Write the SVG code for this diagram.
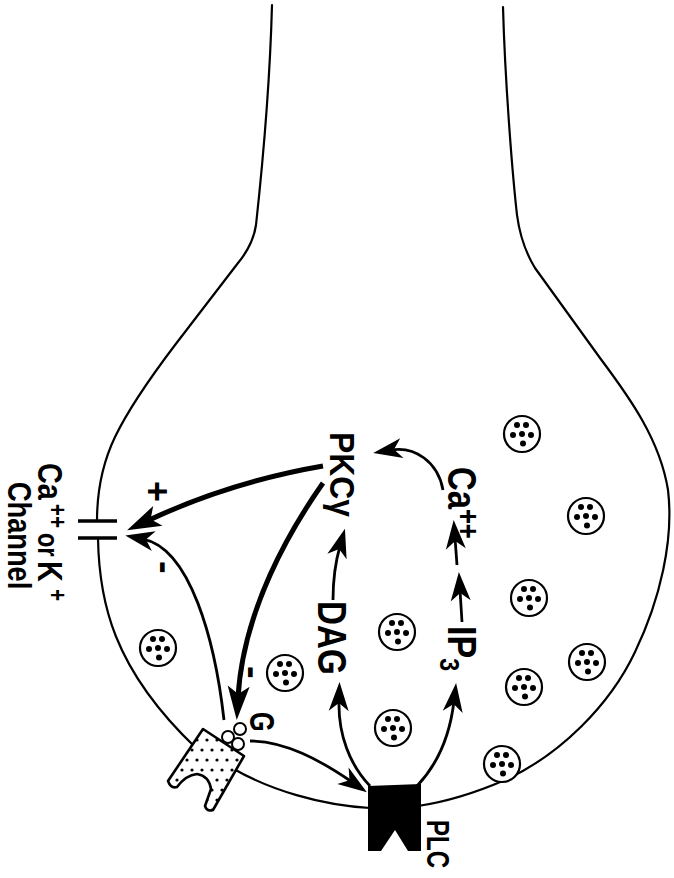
<svg xmlns="http://www.w3.org/2000/svg" width="674" height="878" viewBox="0 0 674 878">
  <style>
    .mem{fill:none;stroke:#000;stroke-width:2.2;stroke-linecap:round;stroke-linejoin:round}
    .thin{fill:none;stroke:#000;stroke-width:2.8;marker-end:url(#ah)}
    .thick{fill:none;stroke:#000;stroke-width:5;marker-end:url(#ahb)}
    .lbl{font-family:"Liberation Sans",Arial,Helvetica,sans-serif;font-weight:bold;fill:#000}
  </style>
  <defs>
    <marker id="ah" markerUnits="userSpaceOnUse" orient="auto" refX="0" refY="0" markerWidth="40" markerHeight="30" overflow="visible">
      <path d="M18,0 L-11,-10 L-3,0 L-11,10 Z" fill="#000"/>
    </marker>
    <marker id="ahb" markerUnits="userSpaceOnUse" orient="auto" refX="0" refY="0" markerWidth="40" markerHeight="30" overflow="visible">
      <path d="M22,0 L-12,-11 L-4,0 L-12,11 Z" fill="#000"/>
    </marker>
    <pattern id="stipple" patternUnits="userSpaceOnUse" x="0" y="5" width="10" height="20">
      <circle cx="7" cy="15" r="1.6" fill="#000"/>
      <circle cx="2" cy="5" r="1.6" fill="#000"/>
    </pattern>
    <g id="vesicle">
      <circle r="18" fill="#fff" stroke="#000" stroke-width="2.2"/>
      <circle cx="-5" cy="-9" r="3"/>
      <circle cx="4" cy="-9" r="3"/>
      <circle cx="-9" cy="1" r="3"/>
      <circle cx="0" cy="0" r="3"/>
      <circle cx="9" cy="1" r="3"/>
      <circle cx="1" cy="9.5" r="3"/>
    </g>
    <path id="receptor-shape" d="M203,729 L244,756 L213,810 Q207,812 205,806 L211,789 Q209,776 197,774 Q186,775 177,787 Q171,789 168,781 Z"/>
  </defs>

  <rect width="674" height="878" fill="#fff"/>

  <!-- cell membrane -->
  <g id="membrane">
    <path class="mem" d="M272,5 C270,80 262,170 256,225 Q253,245 238,263 L175,345 C150,378 128,410 115,437 C104,460 97,490 97,521"/>
    <path class="mem" d="M98,538 C99,600 112,668 196,748"/>
    <path class="mem" d="M232,768 C270,790 320,805 370,808"/>
    <path class="mem" d="M503,7 C505,80 512,170 517,215 Q521,245 535,268 L600,358 C630,398 660,440 668,490 C674,540 660,600 635,652 C610,705 560,755 505,780 C475,793 445,802 418,806"/>
  </g>

  <!-- ion channel -->
  <g id="channel" stroke="#000" stroke-width="3.3">
    <line x1="78" y1="521" x2="117" y2="521"/>
    <line x1="78" y1="538" x2="117" y2="538"/>
  </g>

  <!-- secretory vesicles -->
  <g id="vesicles">
    <use href="#vesicle" x="522" y="434"/>
    <use href="#vesicle" x="586" y="516"/>
    <use href="#vesicle" x="529" y="598"/>
    <use href="#vesicle" x="587" y="662"/>
    <use href="#vesicle" x="524" y="687"/>
    <use href="#vesicle" x="502" y="764"/>
    <use href="#vesicle" x="397" y="632"/>
    <use href="#vesicle" x="393" y="728"/>
    <use href="#vesicle" x="285" y="673"/>
    <use href="#vesicle" x="158" y="648"/>
  </g>

  <!-- signalling connectors -->
  <g id="connectors">
    <path class="thin" d="M443,490 C438,462 415,446 391,450"/>
    <path class="thin" d="M333,600 C333,575 336,560 340,546"/>
    <path class="thin" d="M462,622 L460,590"/>
    <path class="thin" d="M457,565 L455,538"/>
    <path class="thin" d="M370,786 C350,765 338,735 339,700"/>
    <path class="thin" d="M417,786 C437,765 450,735 454,701"/>
    <path class="thin" d="M250,741 C285,741 320,760 352,782"/>
    <path class="thin" d="M224,720 C215,640 190,548 143,539"/>
    <path class="thick" d="M323,466 Q230,482 147,521"/>
    <path class="thick" d="M323,483 C290,530 243,610 238,698"/>
  </g>

  <!-- receptor with coupled G protein -->
  <g id="receptor">
    <use href="#receptor-shape" fill="#fff"/>
    <use href="#receptor-shape" fill="url(#stipple)" stroke="#000" stroke-width="2.6" stroke-linejoin="round"/>
  </g>
  <g id="g-protein" fill="#fff" stroke="#000" stroke-width="2">
    <circle cx="228" cy="737" r="6"/>
    <circle cx="240" cy="729" r="6"/>
    <circle cx="238" cy="744" r="6"/>
  </g>

  <!-- phospholipase C -->
  <g id="plc">
    <polygon points="368,786 421,784 421,851 408,851 395,830 381,851 368,851" fill="#000"/>
  </g>

  <!-- labels (vertical, reading downward) -->
  <g id="labels">
    <text class="lbl" transform="translate(38,463) rotate(90) scale(0.8,1)" font-size="36"><tspan x="0" y="0">Ca</tspan><tspan x="51" y="-11" font-size="26">++</tspan><tspan x="78.75" y="0" font-size="30"> or </tspan><tspan x="122.5" y="0">K</tspan><tspan x="157.5" y="-11" font-size="26">+</tspan><tspan x="23.75" y="30" font-size="34">Channel</tspan></text>
    <text class="lbl" transform="translate(330,432) rotate(90) scale(0.91,1)" font-size="35">PKCγ</text>
    <text class="lbl" transform="translate(448,467) rotate(90) scale(0.8,1)" font-size="41">Ca<tspan dy="-10" font-size="32">++</tspan></text>
    <text class="lbl" transform="translate(318,601) rotate(90) scale(0.81,1)" font-size="41">DAG</text>
    <text class="lbl" transform="translate(448,626) rotate(90) scale(0.83,1)" font-size="41">IP<tspan dy="8" font-size="28">3</tspan></text>
    <text class="lbl" transform="translate(250,712) rotate(90) scale(0.72,1)" font-size="35">G</text>
    <text class="lbl" transform="translate(427,820) rotate(90) scale(0.75,1)" font-size="32">PLC</text>
    <text class="lbl" transform="translate(145,481) rotate(90)" font-size="36">+</text>
    <text class="lbl" transform="translate(152,561) rotate(90)" font-size="38">-</text>
    <text class="lbl" transform="translate(239.5,666) rotate(90)" font-size="38">-</text>
  </g>
</svg>
